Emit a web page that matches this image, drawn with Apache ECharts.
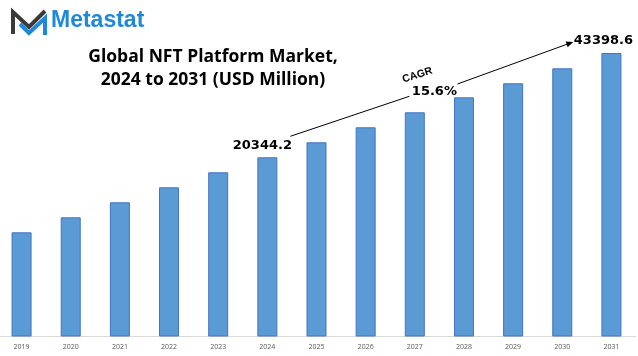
<!DOCTYPE html>
<html>
<head>
<meta charset="utf-8">
<script src="https://cdn.jsdelivr.net/npm/echarts@6/dist/echarts.min.js"></script>
<style>html,body{margin:0;padding:0;background:#fff}#c{width:638px;height:356px}</style>
</head>
<body>
<div id="c"></div>
<script>
var years = ['2019','2020','2021','2022','2023','2024','2025','2026','2027','2028','2029','2030','2031'];
var values = [15951, 18247, 20543, 22840, 25136, 27432, 29728, 32024, 34320, 36617, 38760, 41056, 43398.6];
var labelYears = ['2024', '2031'];
var labelTexts = ['20344.2', '43398.6'];
var cagrText = '15.6%';
var titleText = 'Global NFT Platform Market,\n2024 to 2031 (USD Million)';
var brandText = 'Metastat';

var chart = echarts.init(document.getElementById('c'), null, {renderer: 'canvas'});

var seriesData = values.map(function (v, i) {
  var item = {value: v};
  var k = labelYears.indexOf(years[i]);
  if (k >= 0) {
    var last = i === years.length - 1;
    item.label = {
      show: true, position: 'top',
      distance: last ? 6 : 5,
      offset: last ? [-8, 0] : [-5, 0],
      formatter: labelTexts[k],
      fontFamily: 'DejaVu Sans', fontWeight: 'bold', fontSize: 13, color: '#000'
    };
  }
  return item;
});

var option = {
  animation: false,
  title: {
    text: titleText,
    left: 208, top: 41, textAlign: 'center',
    textStyle: {fontFamily: 'Open Sans', fontWeight: 'bold', fontSize: 17.5, lineHeight: 23, color: '#000'}
  },
  grid: {left: -3, right: 2, top: 53, bottom: 19.5, containLabel: false, outerBoundsMode: 'none'},
  xAxis: {
    type: 'category', data: years,
    axisLine: {show: true, lineStyle: {color: '#D9D9D9', width: 1}},
    axisTick: {show: false},
    axisLabel: {color: '#595959', fontSize: 7, fontFamily: 'Open Sans', margin: 7}
  },
  yAxis: {
    type: 'value', min: 0, max: 43398.6,
    show: false, splitLine: {show: false}
  },
  series: [{
    type: 'bar', data: seriesData, barWidth: 20,
    itemStyle: {color: '#5B9BD5', borderColor: '#4472C4', borderWidth: 1}
  }]
};
chart.setOption(option);

function px(i) { return chart.convertToPixel({xAxisIndex: 0, yAxisIndex: 0}, [years[i], values[i]]); }
var i24 = years.indexOf('2024'), i31 = years.length - 1;
var a = px(i24), b = px(i31);
var p0 = [a[0] + 23, a[1] - 21];
var p1 = [a[0] + 142, a[1] - 61];
var p2 = [b[0] - 154, b[1] + 31];
var p3 = [b[0] - 41, b[1] - 10];
var ang = Math.atan2(p3[1] - p2[1], p3[0] - p2[0]);
var ah = 7, aw = 3;
var tip = [p3[0] + Math.cos(ang) * 3, p3[1] + Math.sin(ang) * 3];
var back = [tip[0] - Math.cos(ang) * ah, tip[1] - Math.sin(ang) * ah];
var arrow = [tip,
  [back[0] + Math.sin(ang) * aw, back[1] - Math.cos(ang) * aw],
  [back[0] - Math.sin(ang) * aw, back[1] + Math.cos(ang) * aw]];
var mid = [(p1[0] + p2[0]) / 2, (p1[1] + p2[1]) / 2];

chart.setOption({
  graphic: [
    {type: 'polyline', shape: {points: [[13, 34], [13, 12], [29, 27], [45, 11]]},
     style: {stroke: '#3A3A3A', lineWidth: 4, fill: null, lineJoin: 'miter'}},
    {type: 'polyline', shape: {points: [[20, 24], [29, 33], [45, 18], [45, 35]]},
     style: {stroke: '#1E88D9', lineWidth: 4, fill: null, lineJoin: 'miter'}},
    {type: 'text', left: 51, top: 9,
     style: {text: brandText, fontFamily: 'Liberation Sans', fontWeight: 'bold', fontSize: 23, fill: '#1E88D9'}},
    {type: 'line', shape: {x1: p0[0], y1: p0[1], x2: p1[0], y2: p1[1]}, style: {stroke: '#000', lineWidth: 1}},
    {type: 'line', shape: {x1: p2[0], y1: p2[1], x2: p3[0], y2: p3[1]}, style: {stroke: '#000', lineWidth: 1}},
    {type: 'polygon', shape: {points: arrow}, style: {fill: '#000'}},
    {type: 'text', x: mid[0] + 1, y: mid[1] + 1,
     style: {text: cagrText, fontFamily: 'DejaVu Sans', fontWeight: 'bold', fontSize: 13, fill: '#000', align: 'center', verticalAlign: 'middle'}},
    {type: 'text', x: mid[0] - 16, y: mid[1] - 15, rotation: 0.3,
     style: {text: 'CAGR', fontFamily: 'Liberation Sans', fontWeight: 'bold', fontSize: 10.5, fill: '#000', align: 'center', verticalAlign: 'middle'}}
  ]
});
</script>
</body>
</html>
